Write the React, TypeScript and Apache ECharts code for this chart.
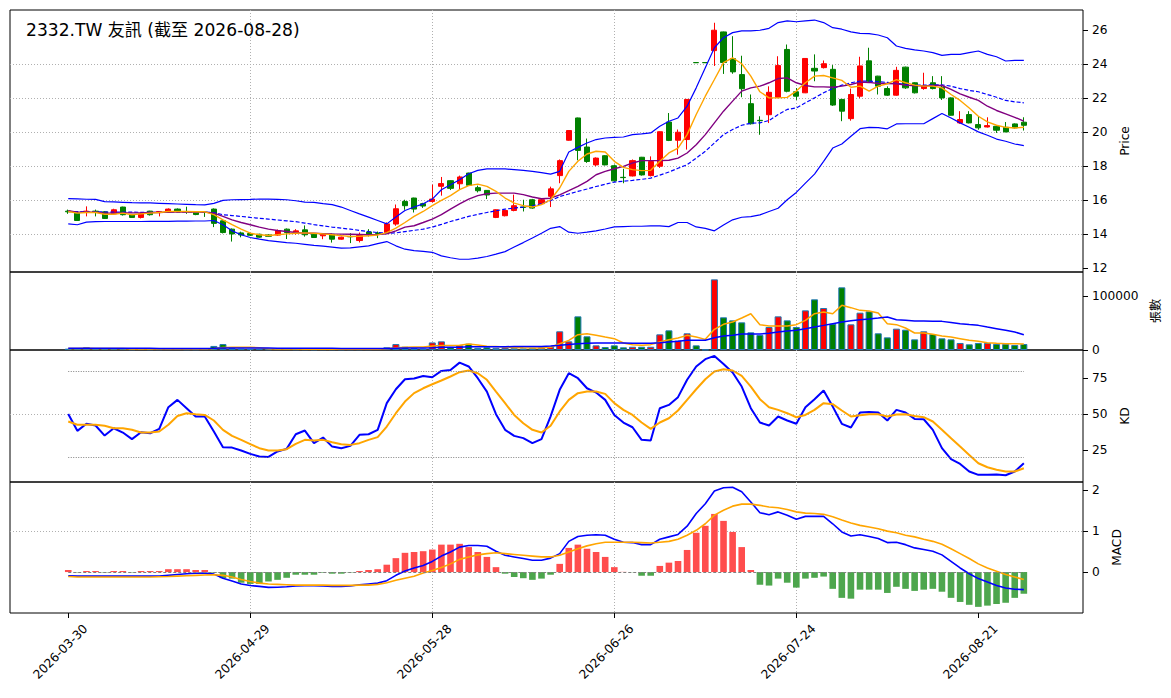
import React, { useEffect, useRef } from "react";
import * as echarts from "echarts";

const DATES = [
  "2026-03-30","2026-03-31","2026-04-01","2026-04-02","2026-04-07","2026-04-08","2026-04-09","2026-04-10",
  "2026-04-13","2026-04-14","2026-04-15","2026-04-16","2026-04-17",
  "2026-04-20","2026-04-21","2026-04-22","2026-04-23","2026-04-24",
  "2026-04-27","2026-04-28","2026-04-29","2026-04-30",
  "2026-05-04","2026-05-05","2026-05-06","2026-05-07","2026-05-08",
  "2026-05-11","2026-05-12","2026-05-13","2026-05-14","2026-05-15",
  "2026-05-18","2026-05-19","2026-05-20","2026-05-21","2026-05-22",
  "2026-05-25","2026-05-26","2026-05-27","2026-05-28","2026-05-29",
  "2026-06-01","2026-06-02","2026-06-03","2026-06-04","2026-06-05",
  "2026-06-08","2026-06-09","2026-06-10","2026-06-11","2026-06-12",
  "2026-06-15","2026-06-16","2026-06-17","2026-06-18",
  "2026-06-22","2026-06-23","2026-06-24","2026-06-25","2026-06-26",
  "2026-06-29","2026-06-30","2026-07-01","2026-07-02","2026-07-03",
  "2026-07-06","2026-07-07","2026-07-08","2026-07-09","2026-07-10",
  "2026-07-13","2026-07-14","2026-07-15","2026-07-16","2026-07-17",
  "2026-07-20","2026-07-21","2026-07-22","2026-07-23","2026-07-24",
  "2026-07-27","2026-07-28","2026-07-29","2026-07-30","2026-07-31",
  "2026-08-03","2026-08-04","2026-08-05","2026-08-06","2026-08-07",
  "2026-08-10","2026-08-11","2026-08-12","2026-08-13","2026-08-14",
  "2026-08-17","2026-08-18","2026-08-19","2026-08-20","2026-08-21",
  "2026-08-24","2026-08-25","2026-08-26","2026-08-27","2026-08-28",
];

const OPEN = [
  15.36,15.24,15.28,15.36,15.32,15.2,15.6,15.15,14.99,15.36,
  15.28,15.28,15.48,15.34,15.3,15.3,15.48,14.79,14.3,14.08,
  14.04,14.0,13.96,13.95,14.3,14.06,14.26,14.0,13.91,14.0,
  13.71,13.87,13.63,14.14,14.07,14.1,14.6,15.93,16.13,15.8,
  15.93,16.82,17.15,16.97,17.6,16.74,16.58,14.99,15.09,15.4,
  15.6,16.03,15.8,16.23,17.45,19.53,20.84,19.13,18.08,18.62,
  18.03,17.35,17.43,18.53,17.45,18.0,20.6,19.53,19.57,24.1,
  24.1,24.8,25.9,24.33,23.39,21.68,20.7,21.03,22.05,24.87,
  22.38,22.32,23.76,23.8,23.7,21.93,20.8,22.12,24.2,23.3,
  22.57,22.18,23.83,22.91,22.57,22.91,22.65,22.02,20.55,21.04,
  20.45,20.31,20.35,20.29,20.49,20.59,
];
const CLOSE = [
  15.32,14.81,15.36,15.28,14.93,15.44,15.15,14.99,15.2,15.15,
  15.34,15.48,15.34,15.33,15.16,15.28,14.64,14.1,14.02,13.96,
  13.94,13.83,13.88,14.2,14.1,14.2,13.97,13.81,14.0,13.71,
  13.83,13.85,13.93,13.97,14.05,14.61,15.5,15.68,15.48,15.66,
  16.07,16.98,16.7,17.37,16.88,16.56,16.31,15.44,15.4,15.68,
  15.58,15.54,16.03,16.67,18.33,20.1,18.93,18.28,18.48,18.08,
  17.14,17.33,18.33,17.49,18.28,20.03,19.52,20.0,21.93,24.09,
  24.09,26.0,24.1,23.55,22.56,20.5,20.68,22.35,23.92,22.41,
  22.12,24.34,23.6,24.03,21.6,21.24,22.22,23.9,23.0,22.71,
  22.18,23.64,22.61,22.32,22.71,22.57,22.02,21.0,20.75,20.55,
  20.26,20.39,20.12,20.02,20.26,20.41,
];
const LOW = [
  15.2,14.78,15.05,15.05,14.9,15.15,15.1,14.97,14.93,15.1,
  15.05,15.25,15.3,15.2,15.12,15.02,14.42,14.05,13.57,13.82,
  13.9,13.8,13.85,13.9,13.72,13.98,13.86,13.78,13.71,13.51,
  13.68,13.48,13.52,13.87,13.77,14.05,14.5,15.44,15.28,15.55,
  15.87,16.27,16.6,16.62,16.85,16.46,16.07,14.95,15.05,15.35,
  15.34,15.5,15.75,15.6,17.0,19.5,18.35,18.2,18.0,18.05,
  17.1,17.0,17.4,17.45,17.4,17.9,19.48,18.68,18.98,24.07,
  24.07,23.9,23.43,23.44,22.06,20.45,19.85,20.54,22.0,22.35,
  21.9,22.3,23.0,23.75,21.55,20.65,20.68,22.0,22.95,22.22,
  22.14,22.15,22.55,22.28,22.5,22.52,21.9,20.98,20.5,20.52,
  20.15,20.28,19.96,20.0,20.22,20.1,
];
const HIGH = [
  15.45,15.3,15.64,15.45,15.36,15.5,15.62,15.18,15.25,15.38,
  15.36,15.52,15.52,15.62,15.32,15.34,15.52,14.82,14.34,14.15,
  14.08,14.03,14.0,14.28,14.34,14.3,14.52,14.03,14.05,14.03,
  13.86,14.06,14.1,14.3,14.16,14.7,15.75,16.03,16.15,15.85,
  16.92,17.37,17.17,17.45,17.62,16.86,16.6,15.46,15.42,16.33,
  16.03,16.08,16.1,16.8,18.4,20.12,20.86,19.63,18.52,18.65,
  18.1,17.85,18.4,18.55,18.58,20.05,21.13,20.16,21.95,24.12,
  24.12,26.44,25.92,25.65,24.5,22.22,20.94,22.7,24.47,25.16,
  22.6,24.36,24.58,24.22,23.95,21.96,22.57,24.44,24.97,23.32,
  22.7,23.85,23.86,22.94,23.5,23.3,23.3,22.05,21.24,21.24,
  20.94,20.88,20.38,20.6,20.52,20.88,
];

const MA5 = [
  15.34,15.24,15.28,15.28,15.18,15.18,15.24,15.15,15.2,15.24,
  15.28,15.34,15.34,15.34,15.32,15.32,15.15,14.85,14.56,14.3,
  14.06,13.97,13.93,13.97,14.02,14.06,14.08,14.06,14.02,13.97,
  13.92,13.87,13.88,13.91,13.96,14.1,14.36,14.69,15.05,15.34,
  15.68,15.99,16.27,16.62,16.86,16.95,16.82,16.52,16.13,15.83,
  15.68,15.6,15.74,16.03,16.72,17.7,18.29,18.72,18.88,18.84,
  18.29,17.93,17.8,17.74,17.76,18.29,18.78,19.07,19.86,21.04,
  22.12,23.1,24.09,24.38,24.03,23.3,22.38,22.02,22.02,22.05,
  22.42,22.91,23.3,23.34,23.2,23.05,22.65,22.71,22.42,22.71,
  22.85,23.1,22.91,22.77,22.71,22.71,22.61,22.22,21.87,21.43,
  20.94,20.61,20.41,20.29,20.25,20.29,
];
const MA10 = [
  15.38,15.3,15.3,15.3,15.24,15.24,15.26,15.26,15.26,15.28,
  15.28,15.3,15.3,15.3,15.3,15.3,15.24,15.05,14.85,14.69,
  14.56,14.42,14.3,14.22,14.16,14.1,14.06,14.06,14.04,14.02,
  14.01,14.0,13.99,13.97,13.98,14.02,14.2,14.42,14.5,14.69,
  14.89,15.15,15.48,15.79,16.07,16.27,16.38,16.42,16.42,16.42,
  16.33,16.19,16.09,16.12,16.32,16.56,16.81,17.11,17.5,17.7,
  17.85,17.99,18.19,18.33,18.33,18.33,18.35,18.48,18.78,19.27,
  19.86,20.55,21.24,21.83,22.42,22.61,22.71,22.91,23.16,23.2,
  22.91,22.75,22.67,22.67,22.65,22.71,22.81,22.95,22.93,22.87,
  22.87,22.85,22.77,22.73,22.73,22.75,22.75,22.52,22.26,22.06,
  21.87,21.53,21.28,21.08,20.88,20.65,
];
const MA20 = [
  15.34,15.33,15.32,15.32,15.31,15.3,15.3,15.3,15.29,15.29,
  15.29,15.29,15.3,15.3,15.3,15.3,15.27,15.15,15.1,15.05,
  14.99,14.94,14.89,14.84,14.79,14.74,14.66,14.57,14.49,14.42,
  14.36,14.3,14.23,14.16,14.1,14.06,14.08,14.16,14.23,14.3,
  14.42,14.58,14.75,14.9,15.05,15.17,15.28,15.38,15.48,15.54,
  15.6,15.67,15.8,15.98,16.22,16.37,16.52,16.66,16.81,16.94,
  17.07,17.12,17.17,17.23,17.3,17.48,17.66,17.88,18.09,18.48,
  18.88,19.37,19.86,20.16,20.41,20.53,20.55,20.69,21.04,21.34,
  21.43,21.73,22.02,22.32,22.57,22.77,22.91,23.01,23.01,22.97,
  22.93,22.87,22.81,22.77,22.77,22.79,22.79,22.71,22.57,22.46,
  22.38,22.22,22.06,21.87,21.79,21.73,
];
const BB_UP = [
  16.09,16.08,16.06,16.05,15.92,15.9,15.88,15.86,15.85,15.84,
  15.82,15.8,15.78,15.76,15.74,15.73,15.82,15.99,16.03,16.04,
  16.05,16.07,16.07,16.05,16.03,15.97,15.89,15.87,15.8,15.74,
  15.6,15.4,15.2,15.01,14.81,14.61,15.01,15.4,15.6,15.79,
  16.07,16.62,16.91,17.21,17.56,17.76,17.84,17.85,17.84,17.8,
  17.76,17.7,17.62,17.54,17.7,18.84,19.11,19.37,19.57,19.66,
  19.7,19.72,19.86,19.9,19.96,20.35,20.65,20.84,21.53,22.61,
  23.79,24.97,25.56,25.86,25.96,25.96,26.0,26.11,26.45,26.55,
  26.5,26.55,26.6,26.45,26.15,26.06,25.9,25.82,25.8,25.72,
  25.56,25.07,24.93,24.84,24.78,24.68,24.52,24.58,24.58,24.68,
  24.78,24.58,24.44,24.19,24.23,24.23,
];
const BB_LOW = [
  14.61,14.56,14.71,14.74,14.75,14.75,14.75,14.75,14.75,14.76,
  14.76,14.76,14.77,14.77,14.78,14.78,14.81,14.56,14.2,13.97,
  13.81,13.71,13.63,13.57,13.51,13.47,13.41,13.35,13.3,13.24,
  13.18,13.2,13.26,13.32,13.45,13.57,13.32,13.12,13.04,12.99,
  12.94,12.73,12.62,12.53,12.53,12.6,12.69,12.83,12.98,13.25,
  13.51,13.78,14.06,14.35,14.45,14.12,14.06,14.12,14.2,14.31,
  14.43,14.45,14.47,14.47,14.49,14.49,14.45,14.69,14.69,14.43,
  14.35,14.2,14.55,14.85,15.0,15.04,15.14,15.34,15.53,16.03,
  16.46,17.01,17.54,18.29,19.07,19.31,19.76,20.21,20.29,20.27,
  20.2,20.49,20.5,20.5,20.5,20.8,21.1,20.84,20.55,20.29,
  20.02,19.82,19.6,19.47,19.31,19.21,
];

const VOLUME = [
  2500,3000,5000,2000,1800,2200,2000,1500,1800,1500,
  1600,2000,1800,1500,1500,2000,7500,11000,3500,2500,
  2000,1800,1500,1800,2000,1500,1500,1200,1500,1400,
  1300,1500,1500,1600,1800,5000,11000,6000,3500,2500,
  14000,16000,5000,8600,11700,4000,5000,4000,4500,3500,
  3000,4000,5000,6000,34600,16000,62300,25300,8600,5500,
  8600,5000,6000,6000,6000,29000,36400,17300,30900,8600,
  800,130800,60500,54900,51200,32700,27800,42600,62300,54900,
  42600,73400,93800,77700,48700,116000,47500,69100,71600,30900,
  23400,39500,37600,19700,34600,29600,21600,19700,13000,10500,
  13000,13000,11100,11100,9300,11100,
];
const VOL_MA5 = [
  2800,2900,3200,3000,2800,2900,2600,1900,1900,1800,
  1700,1700,1700,1700,1700,1800,2700,4600,5100,5300,
  5300,4200,2300,1900,1800,1700,1600,1500,1500,1400,
  1400,1400,1400,1500,1600,2300,4200,5300,5500,5600,
  7300,8300,8200,9000,11000,9100,6900,6600,5700,4300,
  4000,3800,3900,5000,11700,17900,28400,30200,27100,24000,
  21000,13000,9900,8600,9900,14800,19100,22200,27100,24000,
  19700,38300,47500,51800,59200,67200,46900,44400,44400,44400,
  46900,54900,67200,70300,67200,82700,78400,73400,72200,68500,
  48700,46900,40700,31500,31500,29000,25900,24000,21000,17900,
  16000,13600,12300,11700,11700,11100,
];
const VOL_MA20 = [
  3300,3300,3300,3250,3200,3200,3150,3100,3100,3050,
  3000,3000,3000,3000,2950,2950,3200,3600,3650,3650,
  3600,3550,3500,3400,3300,3300,3250,3200,3150,3100,
  3000,3000,2950,2950,2900,3000,3300,3500,3600,3600,
  4200,4900,5000,5300,5800,5900,6000,6100,6200,6300,
  6300,6400,6500,7400,8600,10000,11700,12500,13000,13000,
  13000,12800,12500,12500,12500,13500,14800,16000,17900,17900,
  17900,22800,25900,27500,29600,29600,29600,31000,33300,35000,
  36400,39500,42600,45600,48700,51800,54000,56100,57600,59200,
  61000,56100,55000,53700,53500,53200,53000,51000,48700,47000,
  45600,42500,39500,36400,33300,28400,
];

const K_LINE = [
  50.2,38.4,43.3,42.1,35.1,40.2,37.2,32.6,37.4,36.7,
  39.8,54.9,60,54.2,48.4,48.4,37.9,27,26.7,24.7,
  22.3,20.5,20.2,24,25.8,36,38.6,29.8,33.7,27.4,
  26.3,27.9,35.6,36,39.1,57.7,67.4,74.4,74.9,76.7,
  75.8,80.2,80.9,86,83.3,75.1,65.8,50,39.1,34.9,
  33.3,29.8,32.6,48.5,67,78.6,75.1,68.1,65.1,60,
  49.5,44.2,40.9,32.1,31.6,54.2,56.5,61.9,74,83.3,
  88.4,90.7,85.1,79.1,69.3,54.2,44.2,42.1,48.4,45.6,
  43.3,54.9,60.5,66.5,55.3,43.3,40.7,51.2,51.6,51.2,
  45.6,53,51.2,46.7,46.5,39.1,26.3,18.6,15.3,10,
  7.7,7.7,7.9,7.4,10,15.8,
];
const D_LINE = [
  44.9,42.6,42.6,42.6,41.9,40.2,40.2,39.1,37.2,37.2,
  37.9,42.6,48.8,50.7,50,49.5,45.6,39.1,34.9,32.1,
  29.1,26.3,24.7,24.7,25.6,29.3,32.1,31.6,32.1,30.5,
  29.1,28.6,29.8,32.1,34,41.4,50.7,58.8,64.7,68.1,
  70.9,73.5,76.3,79.3,80.5,78.6,74,65.8,57.7,49.5,
  43.7,39.1,37.2,42,51.9,60,64.7,65.8,65.8,64.2,
  57.7,53,49.5,44.2,39.8,44.2,47.2,52.6,60,67.4,
  74.4,79.8,81.4,80.5,76.7,69.3,60.5,54.9,53,50.7,
  47.9,49.5,53,57.7,57,52.6,48.4,49.3,50,50,
  48.4,49.8,50,48.8,47.9,44.9,39.1,33.3,27.4,21.6,
  15.8,13,11.2,10,10,12.3,
];

const DIF = [
  -0.09,-0.1,-0.1,-0.1,-0.1,-0.1,-0.1,-0.1,-0.1,-0.1,
  -0.1,-0.08,-0.06,-0.04,-0.03,-0.025,-0.05,-0.15,-0.22,-0.29,
  -0.33,-0.35,-0.375,-0.37,-0.36,-0.34,-0.335,-0.335,-0.34,-0.35,
  -0.35,-0.34,-0.31,-0.29,-0.27,-0.21,-0.08,0.025,0.1,0.16,
  0.26,0.39,0.49,0.61,0.65,0.65,0.63,0.51,0.41,0.37,
  0.33,0.29,0.29,0.34,0.45,0.75,0.87,0.9,0.91,0.9,
  0.8,0.73,0.72,0.67,0.67,0.8,0.86,0.92,1.12,1.43,
  1.67,1.98,2.06,2.07,1.96,1.71,1.45,1.4,1.47,1.39,
  1.29,1.36,1.36,1.36,1.18,0.98,0.88,0.91,0.87,0.82,
  0.72,0.73,0.67,0.59,0.55,0.51,0.42,0.26,0.1,-0.04,
  -0.16,-0.24,-0.33,-0.39,-0.42,-0.43,
];
const DEA = [
  -0.11,-0.12,-0.12,-0.12,-0.12,-0.12,-0.12,-0.12,-0.12,-0.12,
  -0.115,-0.11,-0.1,-0.09,-0.08,-0.07,-0.065,-0.08,-0.12,-0.18,
  -0.23,-0.27,-0.29,-0.3,-0.31,-0.32,-0.32,-0.32,-0.32,-0.325,
  -0.325,-0.325,-0.32,-0.32,-0.3,-0.26,-0.2,-0.15,-0.1,-0.025,
  0.04,0.11,0.2,0.31,0.37,0.42,0.45,0.47,0.45,0.43,
  0.41,0.39,0.37,0.37,0.41,0.49,0.57,0.64,0.69,0.73,
  0.73,0.73,0.73,0.72,0.71,0.73,0.75,0.8,0.9,1.02,
  1.18,1.39,1.51,1.61,1.66,1.66,1.63,1.59,1.57,1.53,
  1.47,1.44,1.43,1.41,1.35,1.27,1.2,1.14,1.1,1.06,
  1.0,0.96,0.9,0.86,0.8,0.75,0.68,0.57,0.45,0.33,
  0.2,0.1,0.02,-0.06,-0.12,-0.18,
];
const HIST = [
  0.05,-0.01,0.025,0.025,-0.01,0.025,0.025,-0.01,0.025,0.025,
  0.025,0.07,0.07,0.07,0.05,0.05,-0.015,-0.15,-0.16,-0.26,
  -0.29,-0.29,-0.23,-0.19,-0.14,-0.065,-0.065,-0.065,-0.015,-0.04,
  -0.04,-0.01,0.025,0.05,0.07,0.18,0.34,0.47,0.49,0.51,
  0.55,0.67,0.67,0.69,0.61,0.49,0.37,0.12,-0.04,-0.12,
  -0.15,-0.19,-0.16,-0.065,0.2,0.59,0.67,0.57,0.49,0.37,
  0.12,0.005,-0.005,-0.09,-0.09,0.15,0.23,0.27,0.54,0.96,
  1.13,1.42,1.25,0.98,0.61,0.05,-0.31,-0.33,-0.16,-0.26,
  -0.38,-0.16,-0.14,-0.11,-0.41,-0.63,-0.65,-0.43,-0.43,-0.43,
  -0.51,-0.36,-0.41,-0.46,-0.43,-0.41,-0.48,-0.63,-0.73,-0.8,
  -0.85,-0.82,-0.78,-0.75,-0.63,-0.53,
];

const X_TICKS = [0, 20, 40, 60, 80, 100];
const PRICE_TICKS = [12, 14, 16, 18, 20, 22, 24, 26];
const VOL_TICKS = [0, 100000];
const KD_TICKS = [25, 50, 75];
const MACD_TICKS = [0, 1, 2];
const KD_LEVELS = [80, 20];
const MACD_ZERO = [0];

const TITLE = "2332.TW 友訊 (截至 2026-08-28)";
const FONT = "'DejaVu Sans', 'Noto Sans CJK TC', sans-serif";
const TICK_FONT = 12.2;

const UP = "#ff0000";
const DOWN = "#008000";
const GRID_LINE = { type: [1, 2] as number[], color: "#b0b0b0", width: 1 };

function buildOption() {
  const n = DATES.length;
  const pairs = (arr: number[]) => arr.map((v, i) => [i, v]);
  const fmtInt = (ticks: number[]) => (v: number) =>
    ticks.some((t) => Math.abs(t - v) < 1e-6) ? String(Math.round(v)) : "";

  const grids = [
    { top: 10, height: 262 },
    { top: 272, height: 78 },
    { top: 350, height: 132 },
    { top: 482, height: 131 },
  ].map((g) => ({
    ...g,
    left: 10,
    right: 88,
    show: true,
    borderColor: "#000",
    borderWidth: 1,
    backgroundColor: "transparent",
    containLabel: false,
  }));

  const xAxes = [0, 1, 2, 3].map((k) => ({
    type: "value",
    gridIndex: k,
    min: -6.4,
    max: 111.5,
    minInterval: 20,
    maxInterval: 20,
    axisLine: { show: false, onZero: false },
    axisTick: {
      show: k === 3,
      length: 5,
      lineStyle: { color: "#000" },
      customValues: X_TICKS,
    },
    axisLabel: {
      show: k === 3,
      customValues: X_TICKS,
      showMinLabel: true,
      showMaxLabel: true,
      rotate: 45,
      align: "center",
      verticalAlign: "middle",
      padding: [0, 22, 0, 0],
      margin: 31,
      fontSize: TICK_FONT,
      color: "#000",
      fontFamily: FONT,
      formatter: (v: number) => {
        const i = Math.round(v);
        return Math.abs(v - i) < 1e-6 && DATES[i] ? DATES[i] : "";
      },
    },
    splitLine: { show: true, showMinLine: false, showMaxLine: false, lineStyle: GRID_LINE },
  }));

  const yBase = (k: number, min: number, max: number, step: number, ticks: number[], name: string, gap: number) => ({
    type: "value",
    gridIndex: k,
    position: "right",
    min,
    max,
    minInterval: step,
    maxInterval: step,
    axisLine: { show: false, onZero: false },
    axisTick: { show: true, length: 5, lineStyle: { color: "#000" }, customValues: ticks },
    axisLabel: {
      customValues: ticks,
      showMinLabel: true,
      showMaxLabel: true,
      margin: 9,
      fontSize: TICK_FONT,
      color: "#000",
      fontFamily: FONT,
      formatter: fmtInt(ticks),
    },
    splitLine: { show: true, showMinLine: false, showMaxLine: false, lineStyle: GRID_LINE },
    name,
    nameLocation: "middle",
    nameRotate: 90,
    nameGap: gap,
    nameTextStyle: { fontSize: TICK_FONT, color: "#000", fontFamily: FONT },
  });

  const yAxes = [
    yBase(0, 11.78, 27.19, 2, PRICE_TICKS, "Price", 27),
    yBase(1, 0, 144400, 100000, VOL_TICKS, "張數", 60),
    yBase(2, 2.7, 94.8, 25, KD_TICKS, "KD", 27),
    yBase(3, -1.0, 2.2, 1, MACD_TICKS, "MACD", 15),
  ];

  const line = (name: string, data: number[], k: number, color: string, width: number, type: any = "solid", z = 3) => ({
    name,
    type: "line",
    xAxisIndex: k,
    yAxisIndex: k,
    data: pairs(data),
    symbol: "none",
    showSymbol: false,
    smooth: false,
    z,
    lineStyle: { color, width, type },
    emphasis: { disabled: true },
  });

  const isUp = (i: number) => CLOSE[i] > OPEN[i];

  const series: any[] = [
    {
      name: "K線",
      type: "candlestick",
      xAxisIndex: 0,
      yAxisIndex: 0,
      barWidth: 5.6,
      z: 2,
      data: DATES.map((_, i) => [i, OPEN[i], CLOSE[i], LOW[i], HIGH[i]]),
      itemStyle: { color: UP, color0: DOWN, borderColor: UP, borderColor0: DOWN, borderWidth: 1 },
    },
    line("BB上軌", BB_UP, 0, "#0000ff", 1.2),
    line("BB下軌", BB_LOW, 0, "#0000ff", 1.2),
    line("MA20", MA20, 0, "#0000ff", 1.2, [4, 2]),
    line("MA10", MA10, 0, "#800080", 1.4),
    line("MA5", MA5, 0, "#ffa500", 1.4),
    {
      name: "成交量",
      type: "bar",
      xAxisIndex: 1,
      yAxisIndex: 1,
      barWidth: 7,
      z: 2,
      data: VOLUME.map((v, i) => ({
        value: [i, v],
        itemStyle: { color: isUp(i) ? UP : DOWN, borderColor: "#1f77b4", borderWidth: 1 },
      })),
    },
    line("量MA5", VOL_MA5, 1, "#ffa500", 1.5),
    line("量MA20", VOL_MA20, 1, "#0000ff", 1.5),
    {
      ...line("K", K_LINE, 2, "#0000ff", 2),
      markLine: {
        symbol: "none",
        silent: true,
        label: { show: false },
        lineStyle: { color: "#808080", type: [1, 1.5], width: 1 },
        data: KD_LEVELS.map((lv) => [{ coord: [0, lv] }, { coord: [n - 1, lv] }]),
      },
    },
    line("D", D_LINE, 2, "#ffa500", 2),
    {
      name: "MACD柱",
      type: "bar",
      xAxisIndex: 3,
      yAxisIndex: 3,
      barWidth: 6.6,
      z: 2,
      data: HIST.map((v, i) => ({
        value: [i, v],
        itemStyle: { color: v >= 0 ? "#ff4d4d" : "#4da64d" },
      })),
      markLine: {
        symbol: "none",
        silent: true,
        label: { show: false },
        lineStyle: { color: "#808080", type: [3, 2], width: 1 },
        data: MACD_ZERO.map((lv) => [{ coord: [0, lv] }, { coord: [n - 1, lv] }]),
      },
    },
    line("DIF", DIF, 3, "#0000ff", 1.6),
    line("DEA", DEA, 3, "#ffa500", 1.6),
  ];

  return {
    animation: false,
    backgroundColor: "#ffffff",
    textStyle: { fontFamily: FONT },
    title: {
      text: TITLE,
      left: 26,
      top: 21,
      padding: 0,
      textStyle: { fontSize: 17.1, fontWeight: "normal", color: "#000", fontFamily: FONT },
    },
    grid: grids,
    xAxis: xAxes,
    yAxis: yAxes,
    series,
  };
}

export default function App() {
  const ref = useRef<HTMLDivElement>(null);
  useEffect(() => {
    document.body.style.margin = "0";
    const el = ref.current;
    if (!el) return;
    const chart = echarts.init(el, null, { renderer: "svg" });
    chart.setOption(buildOption() as any);
    return () => chart.dispose();
  }, []);
  return (
    <div
      ref={ref}
      style={{ position: "absolute", left: 0, top: 0, width: 1171, height: 698, background: "#fff" }}
    />
  );
}
